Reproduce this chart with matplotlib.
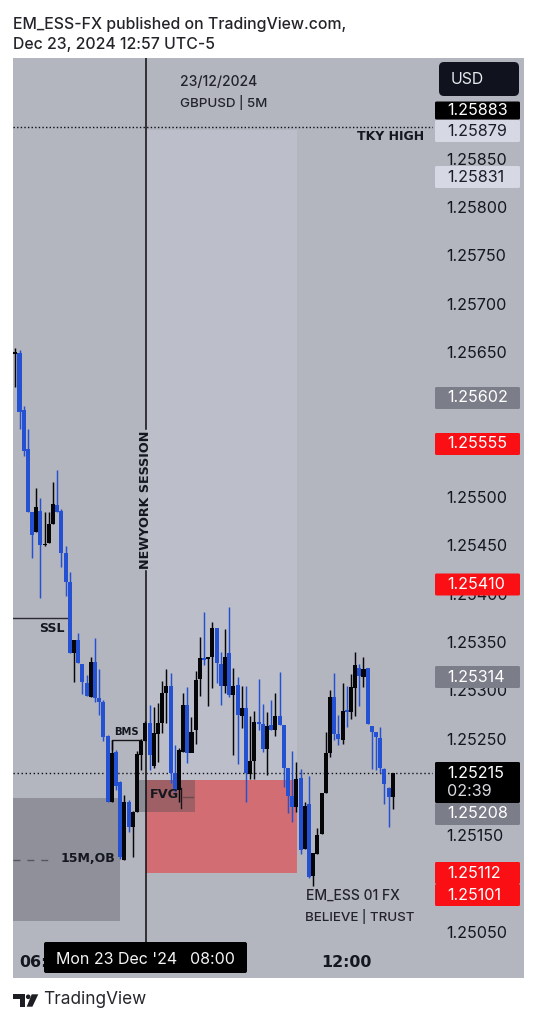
import matplotlib
matplotlib.use("Agg")
import matplotlib.pyplot as plt
import numpy as np
from matplotlib.patches import Circle, FancyBboxPatch, Polygon, Rectangle
from matplotlib.transforms import Affine2D

# 5 minute GBPUSD candles in points (1e-5), first bar is 05:25
opens = [125648, 125649, 125590, 125550, 125485, 125464, 125486, 125450, 125452, 125472,
         125492, 125486, 125442, 125412, 125339, 125352, 125327, 125308, 125293, 125329,
         125292, 125288, 125253, 125184, 125236, 125205, 125125, 125184, 125159, 125174,
         125233, 125248, 125266, 125222, 125255, 125266, 125297, 125305, 125215, 125197,
         125236, 125285, 125235, 125259, 125312, 125333, 125332, 125334, 125365, 125327,
         125305, 125339, 125295, 125306, 125273, 125282, 125213, 125227, 125267, 125265,
         125239, 125264, 125259, 125273, 125264, 125220, 125191, 125179, 125209, 125136,
         125182, 125108, 125131, 125151, 125194, 125235, 125293, 125255, 125249, 125279,
         125278, 125302, 125323, 125314, 125323, 125263, 125257, 125251, 125219, 125199,
         125190]
highs = [125654, 125652, 125594, 125570, 125485, 125509, 125499, 125484, 125485, 125516,
         125528, 125488, 125449, 125422, 125352, 125359, 125327, 125316, 125334, 125354,
         125322, 125290, 125254, 125249, 125238, 125206, 125192, 125187, 125175, 125237,
         125250, 125268, 125285, 125283, 125287, 125310, 125322, 125318, 125243, 125240,
         125297, 125303, 125272, 125320, 125355, 125381, 125334, 125371, 125365, 125340,
         125363, 125386, 125323, 125314, 125305, 125305, 125273, 125279, 125312, 125286,
         125278, 125290, 125297, 125319, 125264, 125220, 125237, 125226, 125219, 125184,
         125211, 125132, 125158, 125194, 125257, 125300, 125318, 125275, 125308, 125305,
         125317, 125340, 125327, 125335, 125323, 125263, 125257, 125262, 125220, 125200,
         125215]
lows = [125614, 125570, 125542, 125485, 125437, 125464, 125396, 125449, 125452, 125472,
        125485, 125428, 125398, 125339, 125309, 125328, 125296, 125294, 125293, 125288,
        125274, 125248, 125184, 125184, 125197, 125126, 125125, 125153, 125128, 125174,
        125218, 125248, 125218, 125220, 125226, 125256, 125266, 125204, 125195, 125184,
        125236, 125225, 125245, 125244, 125294, 125326, 125284, 125302, 125308, 125285,
        125297, 125293, 125233, 125224, 125261, 125184, 125208, 125208, 125259, 125236,
        125212, 125259, 125253, 125264, 125200, 125173, 125164, 125174, 125131, 125136,
        125106, 125098, 125131, 125151, 125194, 125231, 125249, 125243, 125244, 125262,
        125270, 125273, 125284, 125303, 125265, 125219, 125218, 125214, 125182, 125159,
        125177]
closes = [125650, 125588, 125548, 125485, 125461, 125490, 125450, 125451, 125472, 125493,
          125485, 125442, 125412, 125339, 125352, 125328, 125309, 125294, 125329, 125292,
          125288, 125252, 125184, 125235, 125201, 125128, 125184, 125159, 125174, 125234,
          125248, 125266, 125233, 125256, 125266, 125297, 125305, 125215, 125197, 125238,
          125285, 125235, 125257, 125311, 125333, 125331, 125334, 125365, 125328, 125304,
          125335, 125295, 125305, 125275, 125282, 125214, 125227, 125267, 125265, 125239,
          125263, 125259, 125273, 125264, 125220, 125191, 125179, 125208, 125135, 125180,
          125107, 125132, 125150, 125194, 125235, 125293, 125255, 125250, 125279, 125278,
          125303, 125326, 125315, 125322, 125265, 125257, 125252, 125220, 125203, 125190,
          125215]

# round prices whose label is not covered by a price tag
scale_ticks = [1.2505, 1.2515, 1.2525, 1.2530, 1.2535, 1.2540, 1.2545, 1.2550,
               1.2565, 1.2570, 1.2575, 1.2580, 1.2585]
time_tick_bars = [7, 79]
time_tick_labels = ["06:00", "12:00"]

tag_values = [1.25883, 1.25879, 1.25831, 1.25602, 1.25555, 1.25410, 1.25314, 1.25215,
              1.25208, 1.25112, 1.25101]
tag_centers = [110.5, 131, 177, 398, 444, 584.5, 677, 773, 814, 873, 895]
tag_fills = ["#000000", "#d6d9e3", "#d6d9e3", "#7b7d88", "#fa0f14", "#fa0f14", "#7b7d88",
             "#000000", "#7b7d88", "#fa0f14", "#fa0f14"]
tag_texts = ["#ffffff", "#1b1e28", "#1b1e28", "#ffffff", "#ffffff", "#ffffff", "#ffffff",
             "#ffffff", "#ffffff", "#ffffff", "#ffffff"]

session_high = 1.25880
session_bars = (31.15, 67.1)
fvg_zone = (1.25207, 1.25111)
fvg_dark = (29.3, 42.8, 1.25207, 1.25174)
ob_zone = (-0.6, 25.0, 1.25189, 1.25061)
ssl_level = 1.25375
bms_level = 1.25249
tky_high = 1.25883
last_close = 1.25215

BG = "#b3b5bf"
BLUE = "#2450d2"
BLACK = "#060608"
INK = "#15171f"
HEAVY = "DejaVu Sans"

plt.rcParams["font.family"] = ["Inter", "DejaVu Sans"]

W, H = 538, 1024
fig = plt.figure(figsize=(W / 100, H / 100), dpi=100, facecolor="white")
pix = Affine2D().scale(1, -1).translate(0, H)

# price pane, with the plotting area inside it
fig.add_artist(Rectangle((13, 58), 511, 920, transform=pix, fc=BG, ec="none", zorder=-1))
ax = fig.add_axes([13 / W, 1 - 942 / H, 420 / W, 884 / H])
ax.set_facecolor(BG)
for spine in ax.spines.values():
    spine.set_visible(False)

# 96667 pixels per unit of price, 1.25800 sits at pixel row 207
ax.set_ylim(1.258 - (942 - 207) / 96667, 1.258 + (207 - 58) / 96667)
ax.set_xlim(-0.55, 99.57)
ax.yaxis.tick_right()
ax.set_yticks(scale_ticks, [f"{t:.5f}" for t in scale_ticks])
ax.tick_params(axis="y", length=0, pad=9.3, labelsize=11.6, labelcolor=INK)
ax.set_xticks(time_tick_bars, time_tick_labels)
ax.tick_params(axis="x", length=0, pad=9.5, labelsize=11.4, labelcolor=INK)
for lab in ax.get_xticklabels():
    lab.set_fontweight("bold")
    lab.set_family(HEAVY)

# zones sit underneath the candles
ax.add_patch(Rectangle((session_bars[0], fvg_zone[0]), session_bars[1] - session_bars[0],
                       session_high - fvg_zone[0], fc="#bcbfca", ec="none", zorder=1))
ax.add_patch(Rectangle((session_bars[0], fvg_zone[1]), session_bars[1] - session_bars[0],
                       fvg_zone[0] - fvg_zone[1], fc="#d26e73", ec="none", zorder=1.1))
ax.add_patch(Rectangle((ob_zone[0], ob_zone[3]), ob_zone[1] - ob_zone[0],
                       ob_zone[2] - ob_zone[3], fc="#8f9099", ec="none", zorder=1.1))
ax.add_patch(Rectangle((fvg_dark[0], fvg_dark[3]), fvg_dark[1] - fvg_dark[0],
                       fvg_dark[2] - fvg_dark[3], fc="#4a4a50", alpha=0.38, ec="none", zorder=1.2))

# candles
o, h, l, c = [np.array(a) / 1e5 for a in (opens, highs, lows, closes)]
bars = np.arange(len(o))
up = c >= o
colors = np.where(up, BLACK, BLUE)
ax.vlines(bars, l, h, colors=colors, lw=1.05, zorder=3)
ax.bar(bars, np.maximum(np.abs(c - o), 1.5e-5), bottom=np.minimum(o, c), width=0.96,
       color=colors, linewidth=0, zorder=3.2)

# levels and annotations
ax.axhline(tky_high, color="#101014", lw=1.0, ls=(0, (1, 1.6)), zorder=2)
ax.axhline(last_close, color="#101014", lw=1.0, ls=(0, (1, 1.9)), zorder=2)
ax.plot([-0.55, 13], [ssl_level, ssl_level], color="#2a2b30", lw=1.0, zorder=2)
ax.plot([23, 23, 30], [bms_level - 0.0001, bms_level, bms_level], color="#15161a", lw=1.0, zorder=2.5)
ax.plot([-0.55, 9.3], [1.25125, 1.25125], color="#55565e", lw=1.0, ls=(0, (5, 5)), zorder=2)
ax.plot([40.0, 42.4], [1.25190, 1.25190], color="#6a4a4e", lw=1.0, zorder=2.5)
ax.plot([39.6, 39.6], [1.25178, 1.25199], color="#15161a", lw=1.0, zorder=2.5)

# session line, broken around its vertical caption
ax.plot([31.15, 31.15], [1.258 - (429 - 207) / 96667, ax.get_ylim()[1]], color="#0c0c10", lw=1.1, zorder=4)
ax.plot([31.15, 31.15], [ax.get_ylim()[0], 1.258 - (571 - 207) / 96667], color="#0c0c10", lw=1.1, zorder=4)


def label(x, y, s, size, weight="normal", color=INK, ha="left", rotation=0, family=None):
    kw = {"family": family} if family else {}
    return fig.text(x, y, s, transform=pix, fontsize=size, fontweight=weight, color=color,
                    ha=ha, va="center", rotation=rotation, zorder=6, **kw)


label(145.5, 500, "NEWYORK SESSION", 9.2, "bold", ha="center", rotation=90, family=HEAVY)
label(180, 82, "23/12/2024", 10.0, "medium", color="#22232b")
label(180, 103, "GBPUSD | 5M", 9.6, "medium", color="#22232b")
label(357, 137, "TKY HIGH", 9.0, "bold", family=HEAVY)
label(39, 629, "SSL", 9.0, "bold", family=HEAVY)
label(114, 732, "BMS", 7.2, "bold", family=HEAVY)
label(150, 795, "FVG", 9.2, "bold", family=HEAVY)
label(61, 859, "15M,OB", 9.0, "bold", family=HEAVY)
label(306, 896, "EM_ESS 01 FX", 10.0, "medium", color="#22232b")
label(305, 917, "BELIEVE | TRUST", 9.6, "medium", color="#22232b")

# header and footer
label(13, 24, "EM_ESS-FX published on TradingView.com,", 11.4, "medium", color="#23242a")
label(13, 45, "Dec 23, 2024 12:57 UTC-5", 11.4, "medium", color="#23242a")
label(43.5, 1000, "TradingView", 12.4, color="#26272c")
for pts in ([(13, 994.3), (24.7, 994.3), (24.7, 1006.7), (20, 1006.7), (20, 998.6), (13, 998.6)],
            [(31.7, 994.3), (38.3, 994.3), (32.4, 1006.7), (26.7, 1006.7)]):
    fig.add_artist(Polygon(pts, transform=pix, fc="#1d1e23", ec="none", zorder=6))
fig.add_artist(Circle((28.2, 996.8), 2.3, transform=pix, fc="#1d1e23", ec="none", zorder=6))

# currency button and price tags
fig.add_artist(FancyBboxPatch((439, 62), 80, 34, boxstyle="round,pad=0,rounding_size=5",
                              transform=pix, fc="#10131e", ec="none", zorder=5))
label(451, 79.5, "USD", 11.4, color="#e8e9ee")

for value, yc, fill, ink in zip(tag_values, tag_centers, tag_fills, tag_texts):
    top = yc - 11
    height = 22
    if value == last_close:
        top, height = 762, 41
    elif fill == "#000000":
        top, height = yc - 9, 18
    fig.add_artist(FancyBboxPatch((435, top), 85, height, boxstyle="round,pad=0,rounding_size=1.5",
                                  transform=pix, fc=fill, ec="none", zorder=5))
    label(447, yc, f"{value:.5f}", 11.6, color=ink)
label(447, 791, "02:39", 11.6, color="#d8d9de")

# crosshair time label
fig.add_artist(FancyBboxPatch((44, 942), 203, 31, boxstyle="round,pad=0,rounding_size=2",
                              transform=pix, fc="#000000", ec="none", zorder=5))
label(56, 960, "Mon 23 Dec '24", 11.5, color="#f4f4f6")
label(190, 960, "08:00", 11.5, color="#f4f4f6")

fig.savefig("out.png", dpi=100)
